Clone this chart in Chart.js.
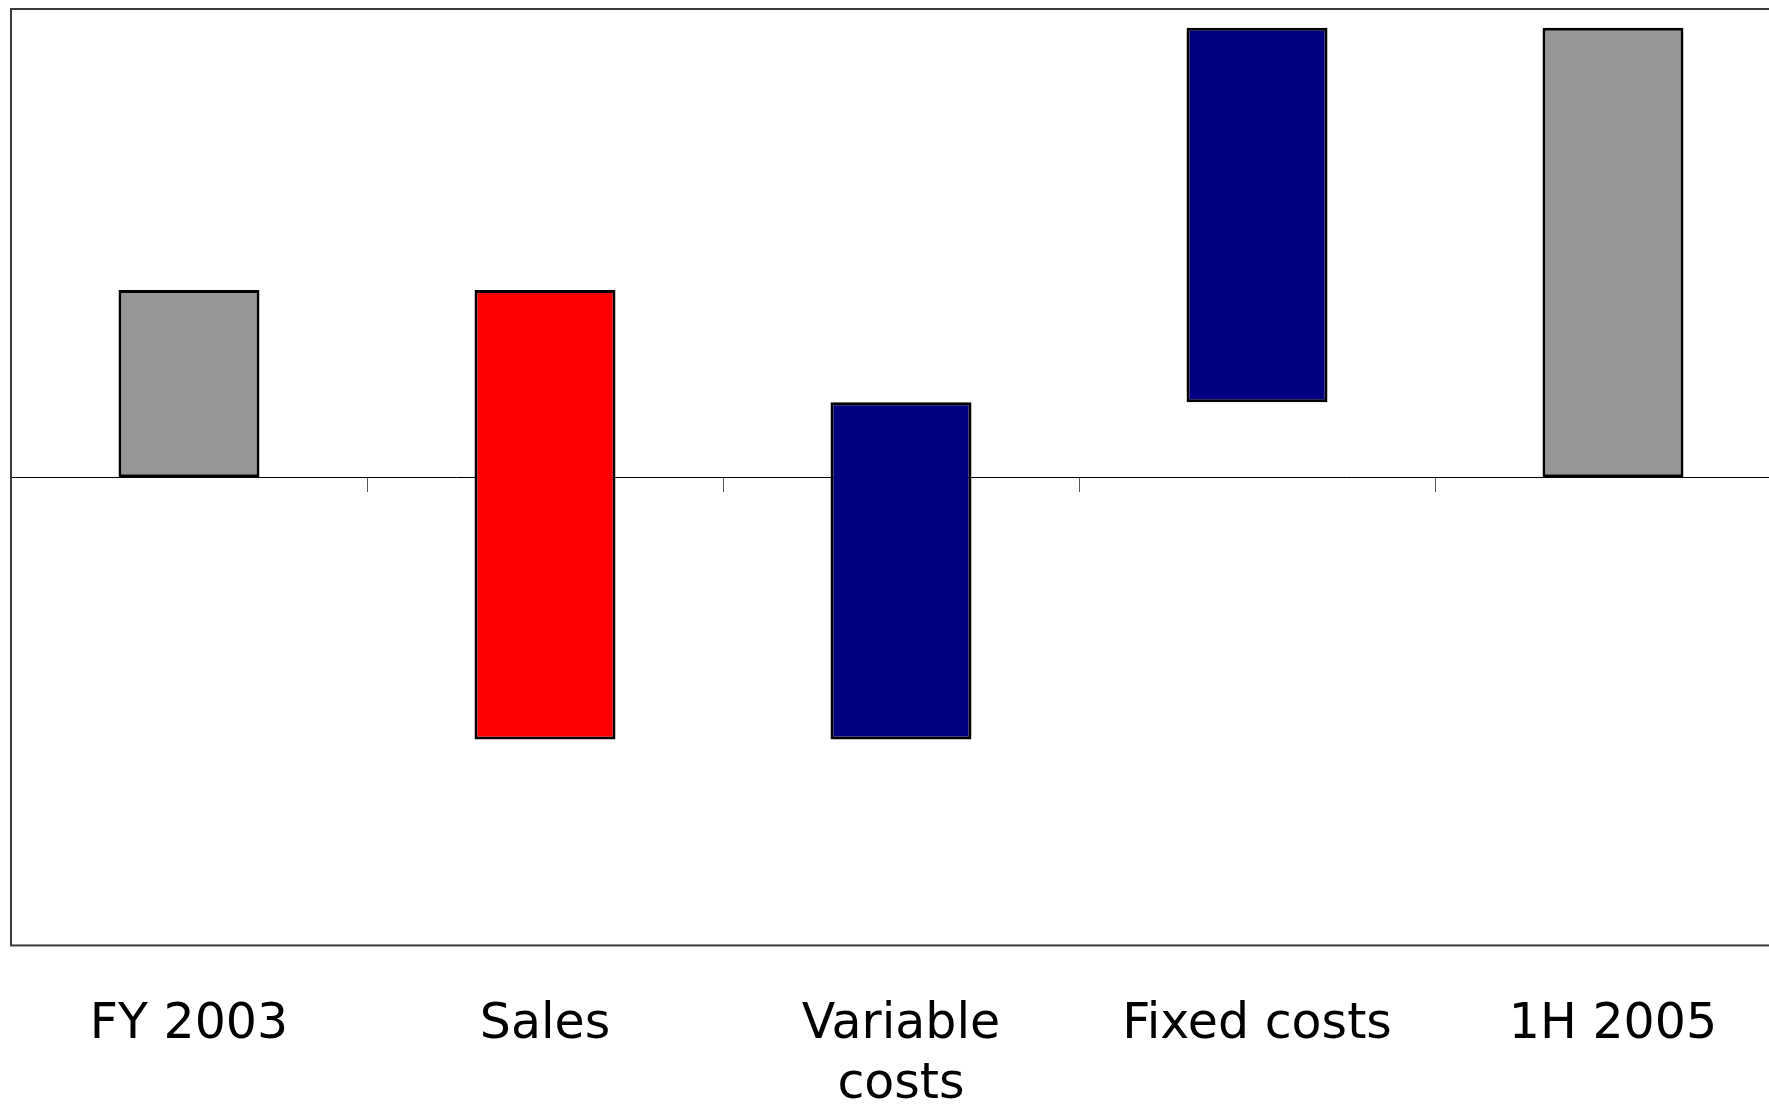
<!DOCTYPE html>
<html>
<head>
<meta charset="utf-8">
<script src="https://cdn.jsdelivr.net/npm/chart.js@4/dist/chart.umd.min.js"></script>
<style>
  html, body { margin: 0; padding: 0; background: #fff; overflow: hidden; }
  canvas { display: block; }
</style>
</head>
<body>
<canvas id="bridge" width="1800" height="1104"></canvas>
<script>
const categories = ['FY 2003', 'Sales', ['Variable', 'costs'], 'Fixed costs', '1H 2005'];
const barLow = [0, -280, -280, 80, 0];
const barHigh = [200, 200, 80, 480, 480];
const barColors = ['#969696', '#ff0000', '#000080', '#000080', '#969696'];
const yMin = -500;
const yMax = 500;

// plot frame around the chart area
const framePlugin = {
    id: 'frame',
    afterDraw(chart) {
        const { ctx, chartArea: a } = chart;
        ctx.save();
        ctx.strokeStyle = '#3a3a3a';
        ctx.lineWidth = 2;
        ctx.strokeRect(a.left, a.top, a.right - a.left, a.bottom - a.top);
        ctx.restore();
    }
};

const ctx = document.getElementById('bridge').getContext('2d');
new Chart(ctx, {
    type: 'bar',
    data: {
        labels: categories,
        datasets: [{
            data: categories.map((c, i) => [barLow[i], barHigh[i]]),
            backgroundColor: barColors,
            borderColor: '#000',
            borderWidth: 3,
            borderSkipped: false,
            barPercentage: 0.396,
            categoryPercentage: 1
        }]
    },
    options: {
        responsive: false,
        animation: false,
        layout: { padding: { left: 11, top: 9, right: 9, bottom: -53 } },
        plugins: { legend: { display: false }, tooltip: { enabled: false } },
        scales: {
            x: {
                position: 'bottom',
                grid: { display: false },
                border: { display: false },
                ticks: {
                    color: '#000',
                    padding: 42,
                    maxRotation: 0,
                    autoSkip: false,
                    font: { family: '"DejaVu Sans", Verdana, sans-serif', size: 49, lineHeight: 1.22 }
                }
            },
            zero: {
                type: 'category',
                axis: 'x',
                labels: categories,
                position: { y: 0 },
                z: 1,
                grid: { offset: true, drawOnChartArea: false, drawTicks: true, tickLength: 14, color: '#555', lineWidth: 1 },
                border: { display: true, color: '#000', width: 1 },
                ticks: { display: false }
            },
            y: {
                display: false,
                min: yMin,
                max: yMax
            }
        }
    },
    plugins: [framePlugin]
});
</script>
</body>
</html>
